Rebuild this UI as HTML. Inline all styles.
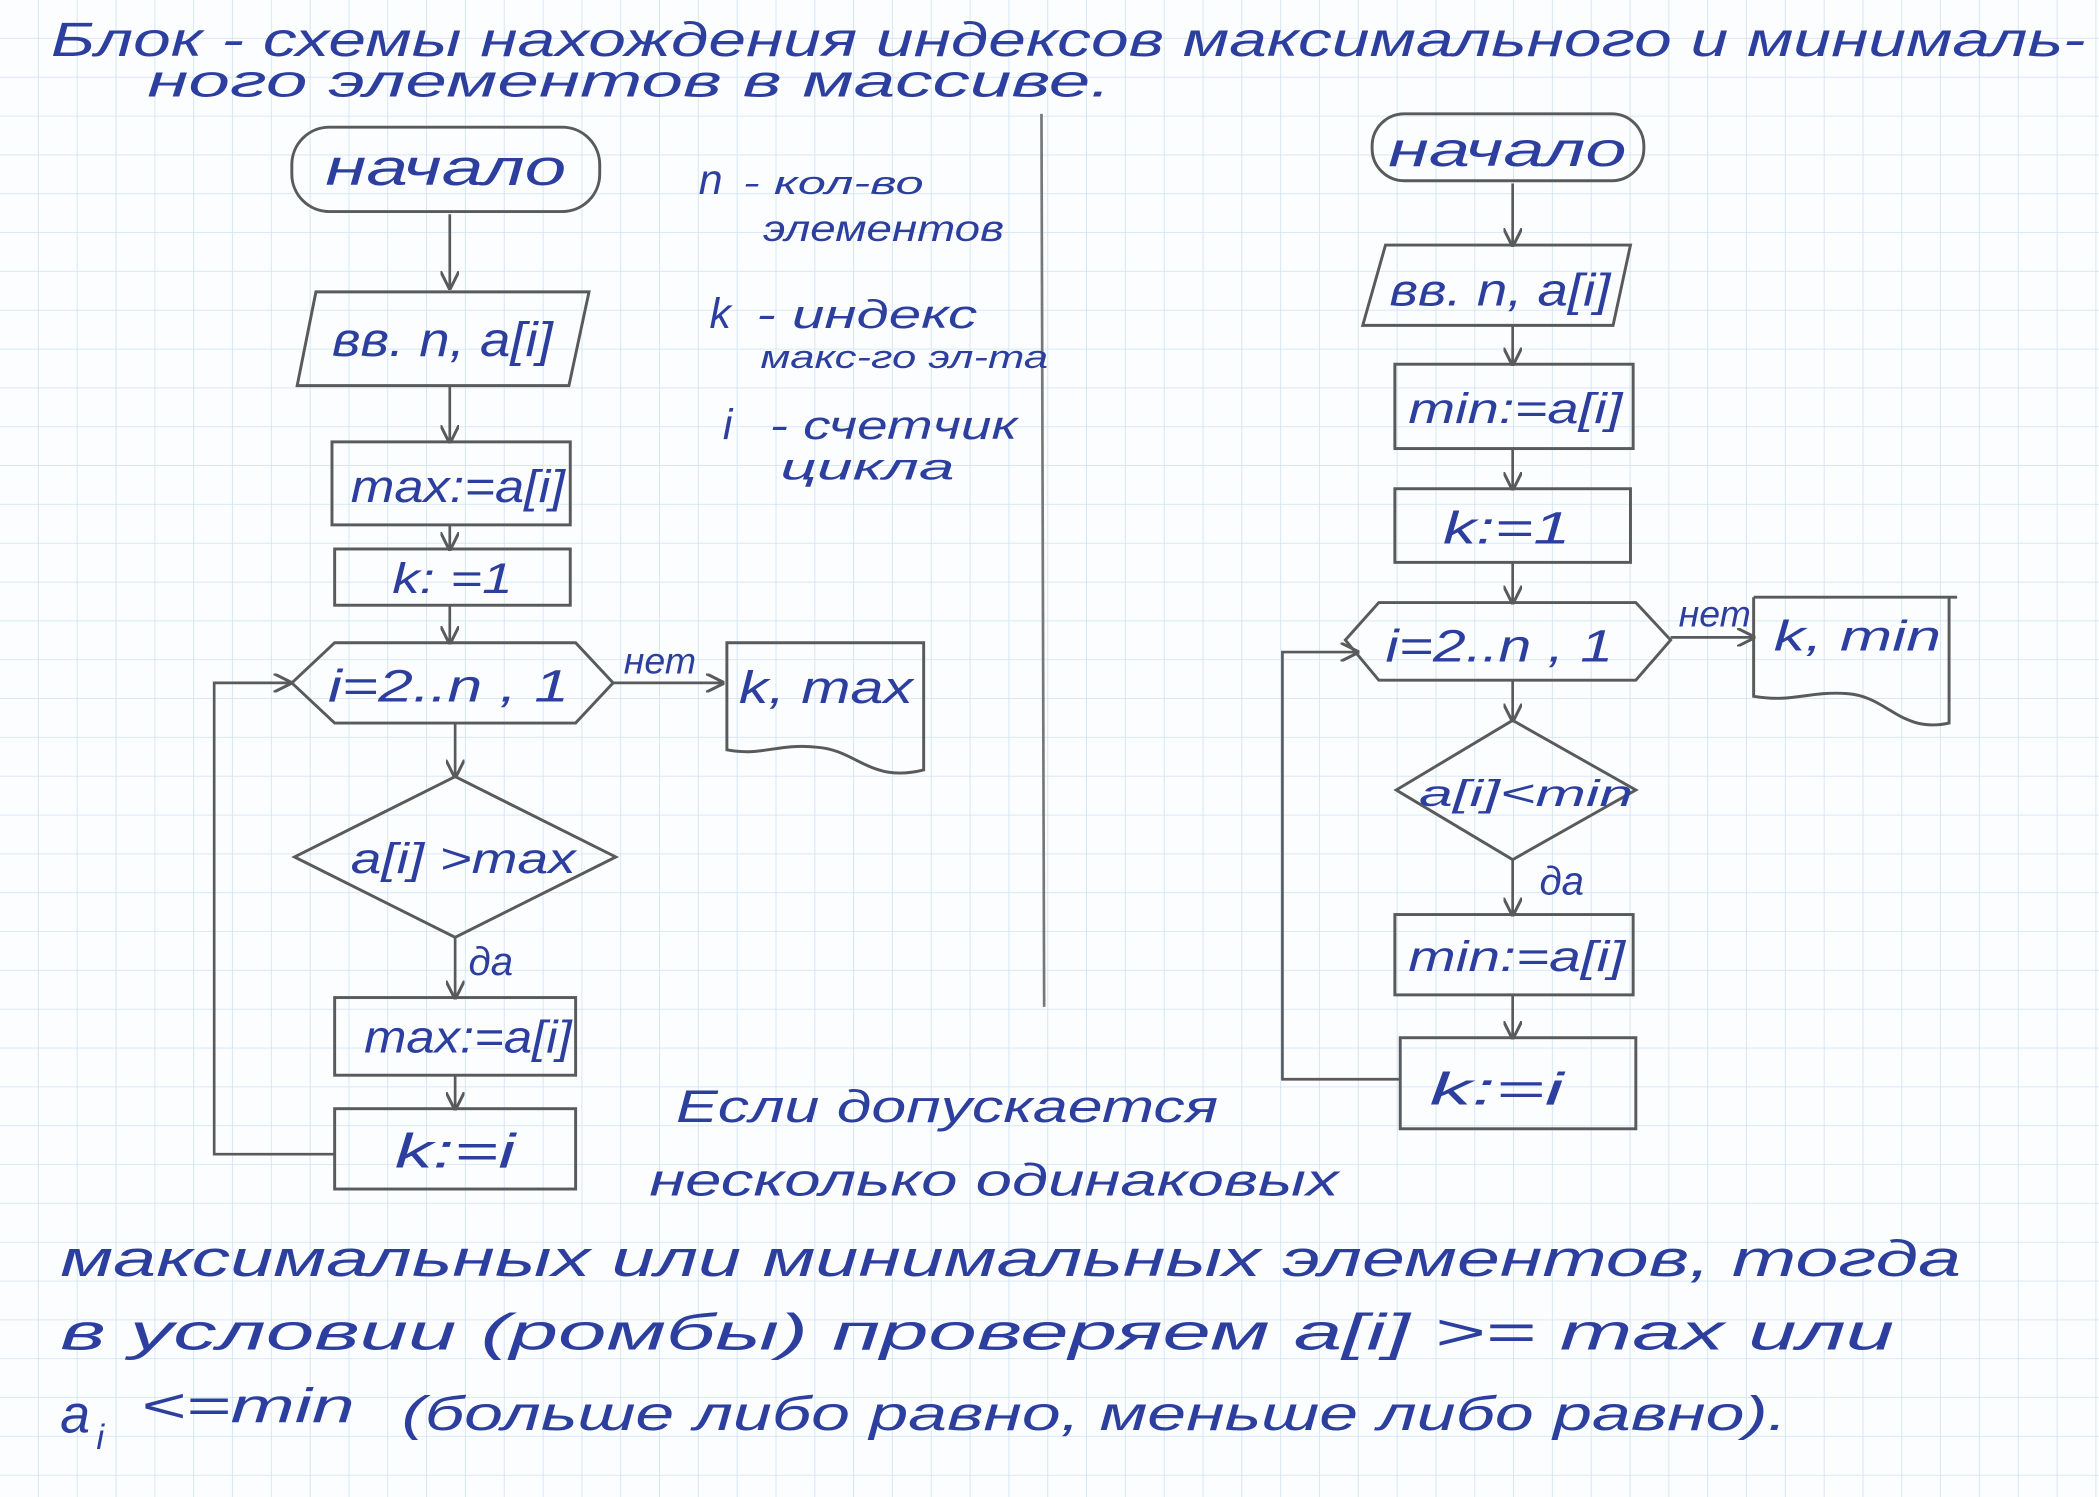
<!DOCTYPE html>
<html><head><meta charset="utf-8">
<style>
html,body{margin:0;padding:0;background:#fff;}
svg{display:block;}
.ink{fill:#2c3f9e;font-family:"Liberation Sans","DejaVu Sans",sans-serif;font-style:italic;}
.p{fill:none;stroke:#5a5a5a;stroke-width:2.2;}
.a{fill:none;stroke:#5a5a5a;stroke-width:2;marker-end:url(#ar);}
</style></head>
<body>
<svg width="2099" height="1497" viewBox="0 0 1568 1118" preserveAspectRatio="none" xmlns="http://www.w3.org/2000/svg">
<defs>
<pattern id="g" width="29" height="29" patternUnits="userSpaceOnUse">
<path d="M29 0V29M0 29H29" fill="none" stroke="#cfe2f0" stroke-width="1.2"/>
</pattern>
<marker id="ar" viewBox="0 0 10 10" refX="9" refY="5" markerWidth="7" markerHeight="7" orient="auto">
<path d="M0 0L10 5L0 10" fill="none" stroke="#5a5a5a" stroke-width="1.6"/>
</marker>
</defs>
<rect width="1568" height="1118" fill="#fbfdff"/>
<rect width="1568" height="1118" fill="url(#g)"/>

<!-- title -->
<text class="ink" x="38" y="42" font-size="36" textLength="1520" lengthAdjust="spacingAndGlyphs">Блок - схемы нахождения индексов максимального и минималь-</text>
<text class="ink" x="110" y="72" font-size="34" textLength="720" lengthAdjust="spacingAndGlyphs">ного элементов в массиве.</text>

<line x1="778" y1="85" x2="780" y2="752" stroke="#777" stroke-width="2"/>

<!-- LEFT -->
<rect class="p" x="218" y="95" width="230" height="63" rx="28"/>
<text class="ink" x="243" y="138" font-size="38" textLength="180" lengthAdjust="spacingAndGlyphs">начало</text>
<line class="a" x1="336" y1="160" x2="336" y2="215"/>
<polygon class="p" points="236,218 440,218 425,288 222,288"/>
<text class="ink" x="248" y="266" font-size="36" textLength="165" lengthAdjust="spacingAndGlyphs">вв. n, a[i]</text>
<line class="a" x1="336" y1="288" x2="336" y2="330"/>
<rect class="p" x="248" y="330" width="178" height="62"/>
<text class="ink" x="262" y="375" font-size="34" textLength="160" lengthAdjust="spacingAndGlyphs">max:=a[i]</text>
<line class="a" x1="336" y1="392" x2="336" y2="410"/>
<rect class="p" x="250" y="410" width="176" height="42"/>
<text class="ink" x="293" y="443" font-size="32" textLength="90" lengthAdjust="spacingAndGlyphs">k: =1</text>
<line class="a" x1="336" y1="452" x2="336" y2="480"/>
<polygon class="p" points="218,510 250,480 430,480 458,510 430,540 250,540"/>
<text class="ink" x="245" y="524" font-size="34" textLength="180" lengthAdjust="spacingAndGlyphs">i=2..n , 1</text>
<text class="ink" x="466" y="503" font-size="28">нет</text>
<line class="a" x1="458" y1="510" x2="540" y2="510"/>
<path class="p" d="M543 480 H690 V575 C650 585,640 560,610 558 C580 555,570 565,543 560 Z"/>
<text class="ink" x="552" y="525" font-size="34" textLength="130" lengthAdjust="spacingAndGlyphs">k, max</text>
<line class="a" x1="340" y1="540" x2="340" y2="580"/>
<polygon class="p" points="340,580 460,640 340,700 220,640"/>
<text class="ink" x="262" y="652" font-size="32" textLength="168" lengthAdjust="spacingAndGlyphs">a[i] &gt;max</text>
<text class="ink" x="350" y="728" font-size="30">да</text>
<line class="a" x1="340" y1="700" x2="340" y2="745"/>
<rect class="p" x="250" y="745" width="180" height="58"/>
<text class="ink" x="272" y="786" font-size="34" textLength="155" lengthAdjust="spacingAndGlyphs">max:=a[i]</text>
<line class="a" x1="340" y1="803" x2="340" y2="828"/>
<rect class="p" x="250" y="828" width="180" height="60"/>
<text class="ink" x="295" y="872" font-size="36" textLength="90" lengthAdjust="spacingAndGlyphs">k:=i</text>
<polyline class="a" points="250,862 160,862 160,510 217,510"/>

<!-- notes -->
<text class="ink" x="522" y="145" font-size="32">n</text>
<text class="ink" x="555" y="145" font-size="24" textLength="135" lengthAdjust="spacingAndGlyphs">- кол-во</text>
<text class="ink" x="570" y="180" font-size="28" textLength="180" lengthAdjust="spacingAndGlyphs">элементов</text>
<text class="ink" x="530" y="245" font-size="32">k</text>
<text class="ink" x="565" y="245" font-size="30" textLength="165" lengthAdjust="spacingAndGlyphs">- индекс</text>
<text class="ink" x="568" y="275" font-size="24" textLength="215" lengthAdjust="spacingAndGlyphs">макс-го эл-та</text>
<text class="ink" x="540" y="328" font-size="32">i</text>
<text class="ink" x="575" y="328" font-size="30" textLength="185" lengthAdjust="spacingAndGlyphs">- счетчик</text>
<text class="ink" x="583" y="358" font-size="28" textLength="130" lengthAdjust="spacingAndGlyphs">цикла</text>

<!-- RIGHT -->
<rect class="p" x="1025" y="85" width="203" height="50" rx="24"/>
<text class="ink" x="1037" y="124" font-size="36" textLength="178" lengthAdjust="spacingAndGlyphs">начало</text>
<line class="a" x1="1130" y1="137" x2="1130" y2="183"/>
<polygon class="p" points="1035,183 1218,183 1205,243 1018,243"/>
<text class="ink" x="1038" y="228" font-size="34" textLength="165" lengthAdjust="spacingAndGlyphs">вв. n, a[i]</text>
<line class="a" x1="1130" y1="243" x2="1130" y2="272"/>
<rect class="p" x="1042" y="272" width="178" height="63"/>
<text class="ink" x="1052" y="316" font-size="32" textLength="160" lengthAdjust="spacingAndGlyphs">min:=a[i]</text>
<line class="a" x1="1130" y1="335" x2="1130" y2="365"/>
<rect class="p" x="1042" y="365" width="176" height="55"/>
<text class="ink" x="1078" y="406" font-size="34" textLength="95" lengthAdjust="spacingAndGlyphs">k:=1</text>
<line class="a" x1="1130" y1="420" x2="1130" y2="450"/>
<polygon class="p" points="1005,478 1030,450 1222,450 1248,478 1222,508 1030,508"/>
<text class="ink" x="1035" y="494" font-size="34" textLength="170" lengthAdjust="spacingAndGlyphs">i=2..n , 1</text>
<text class="ink" x="1254" y="468" font-size="28">нет</text>
<line class="a" x1="1248" y1="476" x2="1310" y2="476"/>
<path class="p" d="M1310 446 V520 C1340 525,1350 516,1380 518 C1410 520,1420 548,1456 540 V446"/>
<line class="p" x1="1310" y1="446" x2="1462" y2="446"/>
<text class="ink" x="1325" y="486" font-size="32" textLength="125" lengthAdjust="spacingAndGlyphs">k, min</text>
<line class="a" x1="1130" y1="508" x2="1130" y2="538"/>
<polygon class="p" points="1130,538 1222,590 1130,642 1043,590"/>
<text class="ink" x="1060" y="602" font-size="28" textLength="160" lengthAdjust="spacingAndGlyphs">a[i]&lt;min</text>
<text class="ink" x="1150" y="668" font-size="30">да</text>
<line class="a" x1="1130" y1="642" x2="1130" y2="683"/>
<rect class="p" x="1042" y="683" width="178" height="60"/>
<text class="ink" x="1052" y="725" font-size="32" textLength="162" lengthAdjust="spacingAndGlyphs">min:=a[i]</text>
<line class="a" x1="1130" y1="743" x2="1130" y2="775"/>
<rect class="p" x="1046" y="775" width="176" height="68"/>
<text class="ink" x="1068" y="825" font-size="34" textLength="100" lengthAdjust="spacingAndGlyphs">k:=i</text>
<polyline class="a" points="1046,806 958,806 958,487 1014,487"/>

<!-- bottom text -->
<text class="ink" x="505" y="838" font-size="34" textLength="405" lengthAdjust="spacingAndGlyphs">Если допускается</text>
<text class="ink" x="485" y="893" font-size="34" textLength="515" lengthAdjust="spacingAndGlyphs">несколько одинаковых</text>
<text class="ink" x="45" y="953" font-size="38" textLength="1420" lengthAdjust="spacingAndGlyphs">максимальных или минимальных элементов, тогда</text>
<text class="ink" x="45" y="1008" font-size="38" textLength="1370" lengthAdjust="spacingAndGlyphs">в условии (ромбы) проверяем a[i] &gt;= max или</text>
<text class="ink" x="45" y="1070" font-size="40">a</text>
<text class="ink" x="72" y="1082" font-size="26">i</text>
<text class="ink" x="105" y="1062" font-size="36" textLength="160" lengthAdjust="spacingAndGlyphs">&lt;=min</text>
<text class="ink" x="300" y="1068" font-size="36" textLength="1035" lengthAdjust="spacingAndGlyphs">(больше либо равно, меньше либо равно).</text>
</svg>
</body></html>
